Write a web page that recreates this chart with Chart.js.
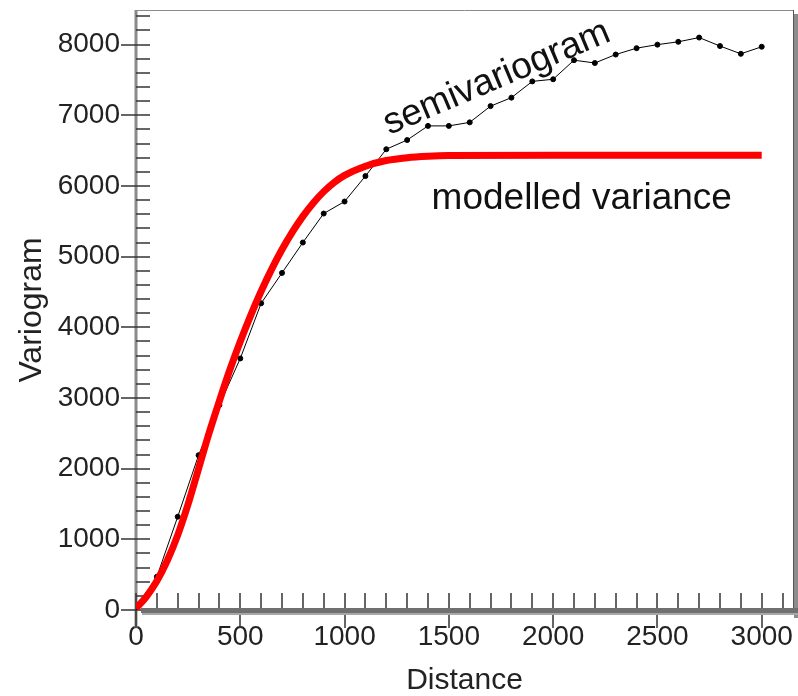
<!DOCTYPE html>
<html lang="en">
<head>
<meta charset="UTF-8">
<title>Variogram</title>
<script src="https://cdn.jsdelivr.net/npm/chart.js@4.4.1/dist/chart.umd.min.js"></script>
<style>
    html, body {
        margin: 0;
        padding: 0;
        background: #fff;
    }
    #wrap {
        width: 798px;
        height: 696px;
    }
</style>
</head>
<body>
<div id="wrap"><canvas id="grafico" width="798" height="696"></canvas></div>
<script>
    // experimental semivariogram (lag distance -> value)
    const lagDistances = [0, 100, 200, 300, 400, 500, 600, 700, 800, 900, 1000,
        1100, 1200, 1300, 1400, 1500, 1600, 1700, 1800, 1900, 2000,
        2100, 2200, 2300, 2400, 2500, 2600, 2700, 2800, 2900, 3000];
    const semivariogram = [40, 470, 1320, 2190, 2900, 3560, 4340, 4770, 5200, 5610, 5780,
        6140, 6520, 6650, 6850, 6850, 6900, 7130, 7250, 7480, 7510,
        7780, 7740, 7860, 7950, 8000, 8040, 8100, 7980, 7870, 7970];

    // fitted model
    const modelDistances = [0, 50, 100, 150, 200, 250, 300, 350, 400, 450, 500, 550, 600, 650, 700,
        750, 800, 850, 900, 950, 1000, 1100, 1200, 1300, 1400, 1500, 2000, 2500, 3000];
    const modelledVariance = [20, 190, 410, 700, 1060, 1500, 2000, 2500, 2960, 3400, 3800, 4170, 4510, 4820, 5100,
        5350, 5570, 5760, 5920, 6050, 6150, 6280, 6360, 6400, 6420, 6430, 6436, 6436, 6436];

    const xLabels = [0, 500, 1000, 1500, 2000, 2500, 3000];
    const yLabels = [0, 1000, 2000, 3000, 4000, 5000, 6000, 7000, 8000];
    const xMinorStep = 100;
    const yMinorStep = 200;

    const anotacoes = [
        {texto: 'semivariogram', x: 1730, y: 7525, angulo: -23},
        {texto: 'modelled variance', x: 2137, y: 5813, angulo: 0}
    ];

    const fonte = '"Liberation Sans", Arial, sans-serif';

    function listaTicks(max, passo) {
        const out = [];
        for (let v = 0; v <= max; v += passo) out.push({value: v});
        return out;
    }

    // axes frame + inside tick marks
    const eixos = {
        id: 'eixos',
        beforeDatasetsDraw(chart) {
            const {ctx, chartArea: a, scales: {x, y}} = chart;
            ctx.save();

            // top border
            ctx.strokeStyle = '#8a8a8a';
            ctx.lineWidth = 1;
            ctx.beginPath();
            ctx.moveTo(a.left, a.top + 0.5);
            ctx.lineTo(a.right, a.top + 0.5);
            ctx.stroke();

            // right border with shadow
            ctx.fillStyle = '#8c8c8c';
            ctx.fillRect(a.right + 1, a.top + 4, 4, a.bottom - a.top + 4);
            ctx.strokeStyle = '#555';
            ctx.beginPath();
            ctx.moveTo(a.right + 0.5, a.top);
            ctx.lineTo(a.right + 0.5, a.bottom);
            ctx.stroke();

            // left axis
            ctx.strokeStyle = '#8a8a8a';
            ctx.lineWidth = 3;
            ctx.beginPath();
            ctx.moveTo(a.left, a.top);
            ctx.lineTo(a.left, a.bottom + 18);
            ctx.stroke();

            ctx.strokeStyle = '#333';
            ctx.lineWidth = 1.5;
            y.ticks.forEach(t => {
                const py = Math.round(y.getPixelForValue(t.value));
                const major = yLabels.includes(t.value);
                ctx.beginPath();
                ctx.moveTo(major ? a.left - 15 : a.left, py);
                ctx.lineTo(a.left + 14, py);
                ctx.stroke();
            });
            x.ticks.forEach(t => {
                const px = Math.round(x.getPixelForValue(t.value));
                const major = xLabels.includes(t.value);
                ctx.beginPath();
                ctx.moveTo(px, a.bottom - 17);
                ctx.lineTo(px, major ? a.bottom + 18 : a.bottom);
                ctx.stroke();
            });

            // bottom axis band
            ctx.fillStyle = '#707070';
            ctx.fillRect(a.left + 5, a.bottom - 2, a.right - a.left, 5);
            ctx.fillStyle = '#a8a8a8';
            ctx.fillRect(a.left + 6, a.bottom + 3, a.right - a.left, 2);
            ctx.restore();
        },
        afterDatasetsDraw(chart) {
            const {ctx, scales: {x, y}} = chart;
            ctx.save();
            ctx.fillStyle = '#111';
            ctx.font = '37px ' + fonte;
            ctx.textAlign = 'center';
            ctx.textBaseline = 'middle';
            anotacoes.forEach(n => {
                ctx.save();
                ctx.translate(x.getPixelForValue(n.x), y.getPixelForValue(n.y));
                ctx.rotate(n.angulo * Math.PI / 180);
                ctx.fillText(n.texto, 0, 0);
                ctx.restore();
            });
            ctx.restore();
        }
    };

    const ctx = document.getElementById('grafico').getContext('2d');
    new Chart(ctx, {
        type: 'line',
        data: {
            datasets: [
                {
                    label: 'modelled variance',
                    data: modelDistances.map((d, i) => ({x: d, y: modelledVariance[i]})),
                    borderColor: '#ff0000',
                    borderWidth: 7,
                    pointRadius: 0,
                    cubicInterpolationMode: 'monotone',
                    fill: false
                },
                {
                    label: 'semivariogram',
                    data: lagDistances.map((d, i) => ({x: d, y: semivariogram[i]})),
                    borderColor: '#000',
                    borderWidth: 1,
                    pointRadius: 2.5,
                    pointBackgroundColor: '#000',
                    pointBorderColor: '#000',
                    tension: 0,
                    fill: false
                }
            ]
        },
        options: {
            responsive: false,
            animation: false,
            layout: {padding: {top: 10, right: 5, left: 0, bottom: 0}},
            plugins: {legend: {display: false}, tooltip: {enabled: false}},
            scales: {
                x: {
                    type: 'linear',
                    min: 0,
                    max: 3150,
                    afterBuildTicks: s => { s.ticks = listaTicks(3100, xMinorStep); },
                    afterFit: s => {
                        s.height = 86;
                        s.paddingLeft = 0;
                        s.paddingRight = 0;
                    },
                    grid: {display: false, drawTicks: false},
                    border: {display: false},
                    ticks: {
                        autoSkip: false,
                        maxRotation: 0,
                        padding: 10,
                        color: '#222',
                        font: {size: 28, family: fonte},
                        callback: v => xLabels.includes(v) ? String(v) : ''
                    },
                    title: {
                        display: true,
                        text: 'Distance',
                        color: '#222',
                        font: {size: 30, family: fonte},
                        padding: {top: 0, bottom: -3}
                    }
                },
                y: {
                    type: 'linear',
                    min: 0,
                    max: 8490,
                    afterBuildTicks: s => { s.ticks = listaTicks(8400, yMinorStep); },
                    afterFit: s => {
                        s.width = 136;
                        s.paddingTop = 0;
                        s.paddingBottom = 0;
                    },
                    grid: {display: false, drawTicks: false},
                    border: {display: false},
                    ticks: {
                        autoSkip: false,
                        padding: 16,
                        color: '#222',
                        font: {size: 28, family: fonte},
                        callback: v => yLabels.includes(v) ? String(v) : ''
                    },
                    title: {
                        display: true,
                        text: 'Variogram',
                        color: '#222',
                        font: {size: 32, family: fonte},
                        padding: {top: 13, bottom: 0}
                    }
                }
            }
        },
        plugins: [eixos]
    });
</script>
</body>
</html>
